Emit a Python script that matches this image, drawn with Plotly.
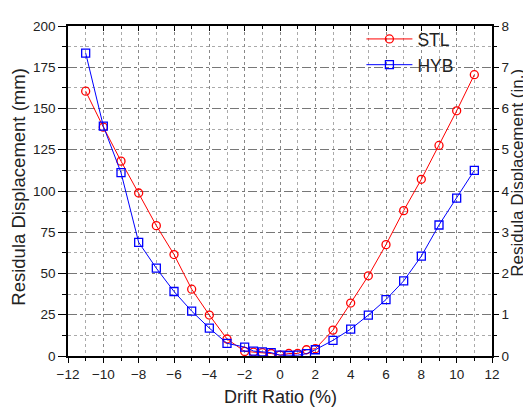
import plotly.graph_objects as go

drift = [-11, -10, -9, -8, -7, -6, -5, -4, -3, -2, -1.5, -1, -0.5, 0, 0.5, 1, 1.5, 2, 3, 4, 5, 6, 7, 8, 9, 10, 11]
stl = [160.5, 138.7, 118.1, 98.8, 79.0, 61.5, 40.5, 24.8, 10.3, 2.8, 2.4, 2.0, 1.5, 0.5, 1.5, 1.5, 3.8, 4.4, 15.7, 32.1, 48.6, 67.5, 88.1, 107.1, 127.6, 148.6, 170.5]
hyb = [183.6, 139.3, 111.1, 68.9, 53.2, 39.1, 27.2, 16.9, 7.7, 5.4, 3.0, 2.5, 2.0, 0.5, 0.3, 0.5, 1.4, 3.8, 9.5, 16.3, 24.8, 34.2, 45.5, 60.5, 79.4, 95.7, 112.5]

x_ticks = [-12, -10, -8, -6, -4, -2, 0, 2, 4, 6, 8, 10, 12]
y_ticks = [0, 25, 50, 75, 100, 125, 150, 175, 200]
y2_ticks = [0, 1, 2, 3, 4, 5, 6, 7, 8]

x_title = "Drift Ratio (%)"
y_title = "Residula Displacement (mm)"
y2_title = "Residula Displacement (in.)"

font = "Liberation Sans, Arial, sans-serif"
txt = "#222"

fig = go.Figure()
fig.add_trace(go.Scatter(
    x=drift, y=stl, name="STL", mode="lines+markers",
    line=dict(color="#ff0000", width=1),
    marker=dict(symbol="circle-open", size=8, color="#ff0000", line=dict(width=1.3)),
))
fig.add_trace(go.Scatter(
    x=drift, y=hyb, name="HYB", mode="lines+markers",
    line=dict(color="#0000ff", width=1),
    marker=dict(symbol="square-open", size=8, color="#0000ff", line=dict(width=1.3)),
))
fig.add_trace(go.Scatter(x=[0], y=[0], yaxis="y2", showlegend=False,
                         mode="markers", marker=dict(opacity=0), hoverinfo="skip"))
fig.add_trace(go.Scatter(x=[0], y=[0], xaxis="x2", showlegend=False,
                         mode="markers", marker=dict(opacity=0), hoverinfo="skip"))

axis_common = dict(
    showline=True, linecolor="#000", linewidth=1.5,
    ticks="outside", tickwidth=1, tickcolor="#000",
    tickfont=dict(family=font, size=13.5, color=txt),
    zeroline=False,
)

# page body has an 8px default margin, so the figure is 8px smaller and offset
fig.update_layout(
    width=523, height=404,
    margin=dict(l=60, r=39, t=11, b=56),
    paper_bgcolor="white", plot_bgcolor="white",
    font=dict(family=font, size=13, color=txt),
    xaxis=dict(
        range=[-12, 12], tickvals=x_ticks, ticklen=5,
        showgrid=True, gridcolor="#888", griddash="dot", gridwidth=1,
        minor=dict(dtick=1, ticks="outside", ticklen=3, tickcolor="#000",
                   showgrid=True, gridcolor="#aaa", griddash="dot", gridwidth=1),
        **axis_common,
    ),
    xaxis2=dict(
        overlaying="x", side="top", range=[-12, 12], tickvals=x_ticks,
        showline=True, linecolor="#000", linewidth=1.5,
        ticks="inside", ticklen=5, tickcolor="#000", showticklabels=False,
        minor=dict(dtick=1, ticks="inside", ticklen=3, tickcolor="#000"),
        showgrid=False, zeroline=False,
    ),
    yaxis=dict(
        range=[0, 200], tickvals=y_ticks, ticklen=8,
        showgrid=True, gridcolor="#777", griddash="dashdot", gridwidth=1,
        minor=dict(dtick=12.5, ticks="outside", ticklen=4, tickcolor="#000",
                   showgrid=True, gridcolor="#aaa", griddash="dot", gridwidth=1),
        **axis_common,
    ),
    yaxis2=dict(
        overlaying="y", side="right", range=[0, 8], tickvals=y2_ticks, ticklen=5,
        showgrid=False,
        minor=dict(dtick=0.5, ticks="outside", ticklen=3, tickcolor="#000"),
        **axis_common,
    ),
    legend=dict(
        x=0.692, y=1.015, xanchor="left", yanchor="top",
        bgcolor="rgba(0,0,0,0)", font=dict(family=font, size=17.5, color=txt),
        tracegroupgap=0, itemwidth=46,
    ),
    showlegend=True,
    annotations=[
        dict(text=x_title, xref="paper", yref="paper", x=0.5, y=-0.125,
             xanchor="center", yanchor="middle", showarrow=False,
             font=dict(family=font, size=18, color=txt)),
        dict(text=y_title, xref="paper", yref="paper", x=-0.1156, y=0.513,
             xanchor="center", yanchor="middle", showarrow=False, textangle=-90,
             font=dict(family=font, size=18.5, color=txt)),
        dict(text=y2_title, xref="paper", yref="paper", x=1.061, y=0.555,
             xanchor="center", yanchor="middle", showarrow=False, textangle=-90,
             font=dict(family=font, size=17, color=txt)),
    ],
)

fig.write_html("out.html")
